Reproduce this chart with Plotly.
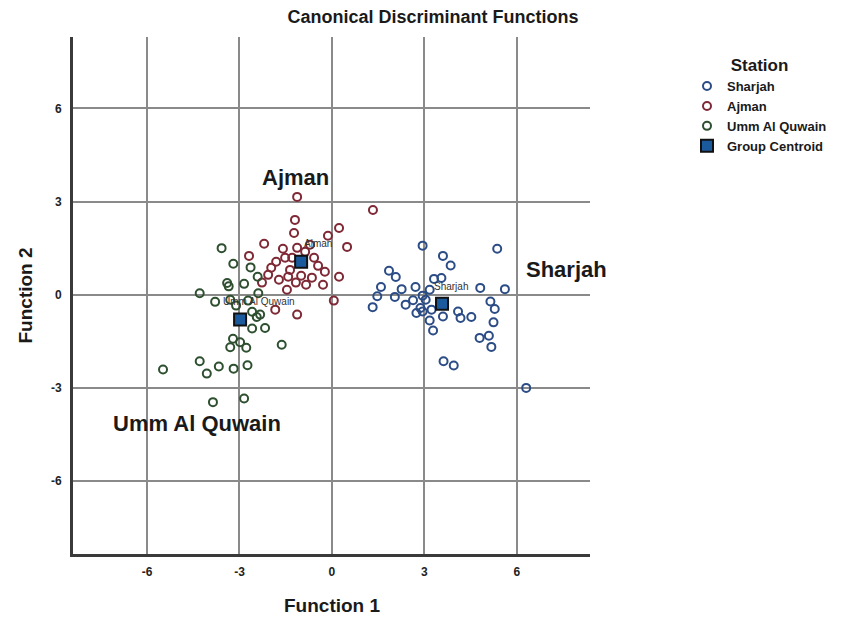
import plotly.graph_objects as go

# Discriminant scores per station (Function 1, Function 2)
sharjah_f1 = [2.94, 5.36, 3.60, 3.85, 1.85, 2.07, 3.31, 3.55, 1.59, 2.26,
              2.71, 3.17, 4.81, 5.61, 1.47, 2.04, 2.94, 1.32, 2.39, 2.63,
              3.04, 2.87, 2.74, 2.94, 3.23, 3.60, 4.09, 4.17, 4.52, 5.14,
              5.28, 5.24, 3.17, 3.28, 4.79, 5.09, 5.17, 3.62, 3.95, 6.30]
sharjah_f2 = [1.58, 1.48, 1.25, 0.94, 0.77, 0.57, 0.51, 0.54, 0.25, 0.18,
              0.25, 0.16, 0.22, 0.18, -0.05, -0.07, -0.03, -0.40, -0.32, -0.18,
              -0.16, -0.43, -0.59, -0.54, -0.48, -0.70, -0.54, -0.75, -0.72, -0.22,
              -0.46, -0.89, -0.83, -1.15, -1.39, -1.32, -1.68, -2.14, -2.28, -3.00]

ajman_f1 = [-1.13, 1.33, -1.20, 0.23, -1.23, -0.13, 0.49, -2.20, -1.59, -2.69,
            -1.13, -0.58, -1.81, -1.52, -1.97, -2.07, -1.42, -1.00, -0.65, -0.23,
            0.23, -0.29, -1.46, 0.06, -1.84, -1.13, -0.87, -0.71, -1.36, -1.17,
            -0.84, -1.72, -1.29, -0.45, -2.27]
ajman_f2 = [3.15, 2.73, 2.41, 2.15, 1.99, 1.90, 1.54, 1.64, 1.48, 1.25,
            1.51, 1.19, 1.06, 1.19, 0.87, 0.64, 0.58, 0.61, 0.55, 0.74,
            0.58, 0.32, 0.16, -0.19, -0.48, -0.64, 1.38, 1.61, 0.80, 0.39,
            0.32, 0.48, 1.19, 0.93, 0.39]

uaq_f1 = [-5.48, -4.29, -4.06, -3.67, -3.19, -2.74, -1.63, -3.21, -3.30, -2.98,
          -2.78, -2.44, -2.17, -3.86, -2.85, -3.58, -3.20, -2.64, -2.41, -3.40,
          -3.35, -4.29, -2.39, -2.33, -2.59, -3.79, -3.30, -2.72, -3.11, -2.59,
          -2.85]
uaq_f2 = [-2.41, -2.14, -2.54, -2.31, -2.38, -2.27, -1.61, -1.42, -1.69, -1.53,
          -1.71, -0.72, -1.07, -3.46, -3.34, 1.50, 1.00, 0.88, 0.58, 0.38,
          0.27, 0.05, 0.05, -0.64, -1.09, -0.23, -0.16, -0.19, -0.35, -0.55,
          0.35]

# Group centroids
centroid_names = ["Sharjah", "Ajman", "Umm Al Quwain"]
centroid_f1 = [3.57, -1.00, -2.98]
centroid_f2 = [-0.29, 1.06, -0.80]

# Territorial labels (large) placed in discriminant space
region_names = ["Ajman", "Sharjah", "Umm Al Quwain"]
region_f1 = [-1.17, 7.62, -4.37]
region_f2 = [3.79, 0.80, -4.15]

tick_vals = [-6, -3, 0, 3, 6]
tick_text = ["-6", "-3", "0", "3", "6"]

FONT = "Liberation Sans"
colors = {"Sharjah": "#2c4c86", "Ajman": "#7e2935", "Umm Al Quwain": "#2e5030"}

fig = go.Figure()

groups = [("Sharjah", sharjah_f1, sharjah_f2),
          ("Ajman", ajman_f1, ajman_f2),
          ("Umm Al Quwain", uaq_f1, uaq_f2)]
for name, xs, ys in groups:
    fig.add_trace(go.Scatter(
        x=xs, y=ys, mode="markers", name=name,
        marker=dict(symbol="circle-open", size=8,
                    line=dict(color=colors[name], width=2),
                    color=colors[name]),
    ))

fig.add_trace(go.Scatter(
    x=centroid_f1, y=centroid_f2, mode="markers", name="Group Centroid",
    marker=dict(symbol="square", size=12, color="#1c5a9e",
                line=dict(color="#111111", width=2)),
))

# Small centroid captions
for name, cx, cy in zip(centroid_names, centroid_f1, centroid_f2):
    dx = {"Sharjah": 0.28, "Ajman": 0.55, "Umm Al Quwain": 0.62}[name]
    dy = {"Sharjah": 0.55, "Ajman": 0.60, "Umm Al Quwain": 0.57}[name]
    fig.add_annotation(x=cx + dx, y=cy + dy, text=name, showarrow=False,
                       font=dict(family=FONT, size=10, color="#333333"))

# Large region labels
for name, rx, ry in zip(region_names, region_f1, region_f2):
    fig.add_annotation(x=rx, y=ry, text=name, showarrow=False,
                       font=dict(family=FONT, size=22, color="#1a1a1a", weight="bold"))

# Axis titles
title_font = dict(family=FONT, size=19, color="#1a1a1a", weight="bold")
fig.add_annotation(xref="paper", yref="paper", x=0.5, y=-51 / 517,
                   text="Function 1", showarrow=False, font=title_font,
                   xanchor="center", yanchor="middle")
fig.add_annotation(xref="paper", yref="paper", x=-48 / 517, y=0.5,
                   text="Function 2", showarrow=False, font=title_font,
                   textangle=-90, xanchor="center", yanchor="middle")

axis_common = dict(
    tickvals=tick_vals, ticktext=tick_text,
    showgrid=True, gridcolor="#8a8a8a", gridwidth=2,
    zeroline=False, showline=True, linecolor="#3a3a3a", linewidth=3,
    ticks="", automargin=False,
    tickfont=dict(family=FONT, size=12, color="#222222", weight="bold"),
)

fig.update_layout(
    width=851, height=617,
    margin=dict(l=73, r=261, t=37, b=63),
    paper_bgcolor="white", plot_bgcolor="white",
    title=dict(text="Canonical Discriminant Functions", x=433 / 851, xref="container",
               xanchor="center", y=1 - 17 / 617, yanchor="middle",
               font=dict(family=FONT, size=18, color="#1a1a1a", weight="bold")),
    xaxis=dict(range=[-8.4, 8.37], ticklabelstandoff=5, **axis_common),
    yaxis=dict(range=[-8.35, 8.3], ticklabelstandoff=6, **axis_common),
    legend=dict(
        x=(687 - 73) / 517, y=(554 - 49) / 517, xanchor="left", yanchor="top",
        title=dict(text="Station", side="top center",
                   font=dict(family=FONT, size=17, color="#1a1a1a", weight="bold")),
        font=dict(family=FONT, size=13, color="#1a1a1a", weight="bold"),
        bgcolor="rgba(0,0,0,0)",
    ),
)

fig.write_html("out.html")
